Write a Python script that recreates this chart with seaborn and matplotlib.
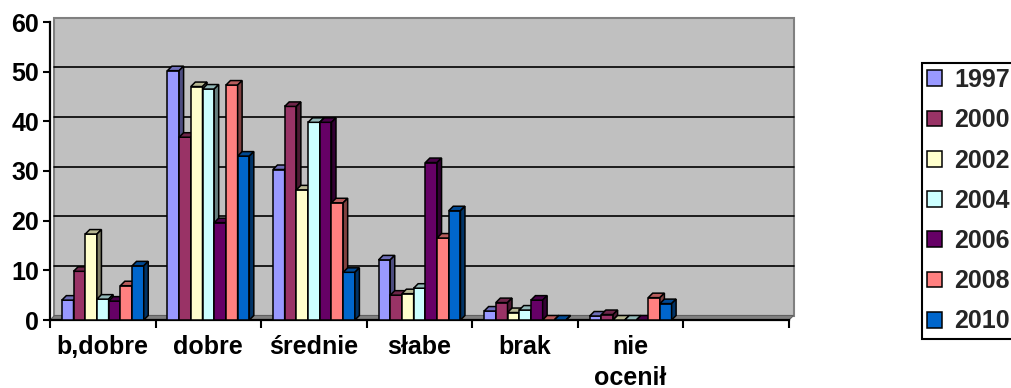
import numpy as np
import pandas as pd
import matplotlib
matplotlib.use("Agg")
import matplotlib.pyplot as plt
import matplotlib.colors as mcolors
from matplotlib.patches import Polygon, Rectangle, Patch
from matplotlib.transforms import ScaledTranslation
import seaborn as sns

# Survey results (%) per rating category and survey year
categories = ["b,dobre", "dobre", "średnie", "słabe", "brak", "nie\nocenił"]
years = ["1997", "2000", "2002", "2004", "2006", "2008", "2010"]
v1997 = [4.0, 50.2, 30.3, 12.1, 1.8, 0.8]
v2000 = [9.8, 36.8, 43.0, 5.0, 3.5, 1.1]
v2002 = [17.3, 47.0, 26.2, 5.3, 1.5, 0.0]
v2004 = [4.2, 46.5, 39.8, 6.4, 2.0, 0.0]
v2006 = [3.8, 19.6, 39.8, 31.7, 4.0, 0.0]
v2008 = [6.9, 47.3, 23.6, 16.5, 0.0, 4.5]
v2010 = [10.9, 33.0, 9.6, 22.0, 0.0, 3.3]
colors = ["#9999FF", "#993366", "#FFFFCC", "#CCFFFF", "#660066", "#FF8080", "#0066CC"]
y_ticks = [0, 10, 20, 30, 40, 50, 60]

series = dict(zip(years, [v1997, v2000, v2002, v2004, v2006, v2008, v2010]))
df = pd.DataFrame(
    [(c, y, v) for y, vals in series.items() for c, v in zip(categories, vals)],
    columns=["kategoria", "rok", "procent"],
)

sns.set_theme(style="white")
plt.rcParams["font.family"] = ["Liberation Sans", "DejaVu Sans"]
plt.rcParams["font.weight"] = "bold"

W, H = 1012, 388
AX_L, AX_B, AX_W, AX_H = 50, 68, 739, 298
DEPTH = 4.5  # pseudo-3D depth in pixels

fig = plt.figure(figsize=(W / 100, H / 100), dpi=100)
fig.patch.set_facecolor("white")
ax = fig.add_axes([AX_L / W, AX_B / H, AX_W / W, AX_H / H])
ax.set_facecolor("none")

sns.barplot(
    data=df, x="kategoria", y="procent", hue="rok",
    order=categories, hue_order=years, palette=colors,
    width=0.776, saturation=1, edgecolor="black", linewidth=1.1,
    legend=False, ax=ax,
)
n_slots = len(categories) + 1
ax.set_xlim(-0.5, n_slots - 0.5)
ax.set_ylim(y_ticks[0], y_ticks[-1])
ax.set_xlabel("")
ax.set_ylabel("")

# back wall, floor and wall gridlines shifted by the depth offset
off = ScaledTranslation(DEPTH / 100, DEPTH / 100, fig.dpi_scale_trans)
ax.add_patch(Rectangle((0, 0), 1, 1, transform=ax.transAxes + off,
                       facecolor="#C0C0C0", edgecolor="#808080", lw=1.5,
                       zorder=0.5, clip_on=False))
dxa, dya = DEPTH / AX_W, DEPTH / AX_H
ax.add_patch(Polygon([(0, 0), (1, 0), (1 + dxa, dya), (dxa, dya)],
                     closed=True, transform=ax.transAxes,
                     facecolor="#808080", edgecolor="#606060", lw=0.8,
                     zorder=0.8, clip_on=False))
for v in y_ticks[1:-1]:
    ax.plot([0, 1], [v, v], transform=ax.get_yaxis_transform() + off,
            color="black", lw=1.2, zorder=1, clip_on=False)

# side and top faces for every column
dx = DEPTH * (n_slots) / AX_W
dy = DEPTH * (y_ticks[-1] - y_ticks[0]) / AX_H


def shade(c, f):
    r, g, b, a = mcolors.to_rgba(c)
    return (r * f, g * f, b * f, a)


rects = sorted([p for cont in ax.containers for p in cont], key=lambda p: p.get_x())
for i, r in enumerate(rects):
    z = 3 + i * 0.01
    r.set_zorder(z)
    x, w, h = r.get_x(), r.get_width(), r.get_height()
    fc = r.get_facecolor()
    top = Polygon([(x, h), (x + w, h), (x + w + dx, h + dy), (x + dx, h + dy)],
                  closed=True, facecolor=shade(fc, 0.72), edgecolor="black",
                  lw=1.1, zorder=z, clip_on=False)
    side = Polygon([(x + w, 0), (x + w + dx, dy), (x + w + dx, h + dy), (x + w, h)],
                   closed=True, facecolor=shade(fc, 0.5), edgecolor="black",
                   lw=1.1, zorder=z, clip_on=False)
    ax.add_patch(top)
    ax.add_patch(side)

# axes, ticks and labels
for s in ["top", "right"]:
    ax.spines[s].set_visible(False)
for s in ["left", "bottom"]:
    ax.spines[s].set_color("black")
    ax.spines[s].set_linewidth(1.6)
    ax.spines[s].set_zorder(2)

ax.set_yticks(y_ticks)
ax.tick_params(axis="y", which="major", direction="out", length=5, width=1.5,
               color="black", labelsize=18, pad=3, left=True)
bounds = np.arange(-0.5, n_slots, 1.0)
ax.set_xticks(bounds, labels=[""] * len(bounds))
ax.set_xticks(range(len(categories)), minor=True)
ax.set_xticklabels(categories, minor=True, linespacing=1.35)
ax.tick_params(axis="x", which="major", direction="out", length=6, width=1.5,
               color="black", bottom=True)
ax.tick_params(axis="x", which="minor", length=0, pad=11, labelsize=18)
for t in ax.get_xticklabels(minor=True) + ax.get_yticklabels():
    t.set_fontweight("bold")
    t.set_color("black")
ax.grid(False)

handles = [Patch(facecolor=c, edgecolor="black", linewidth=1.1) for c in colors]
leg = fig.legend(
    handles, years, loc="upper left",
    bbox_to_anchor=(922 / W, 1 - 63 / H), bbox_transform=fig.transFigure,
    borderaxespad=0, frameon=True, fancybox=False, edgecolor="black",
    framealpha=1, prop={"size": 18, "weight": "bold"},
    handlelength=0.6, handleheight=0.6, handletextpad=0.5,
    labelspacing=0.65, borderpad=0.2,
)
leg.get_frame().set_linewidth(1.5)

fig.savefig("out.png", dpi=100, facecolor="white")
